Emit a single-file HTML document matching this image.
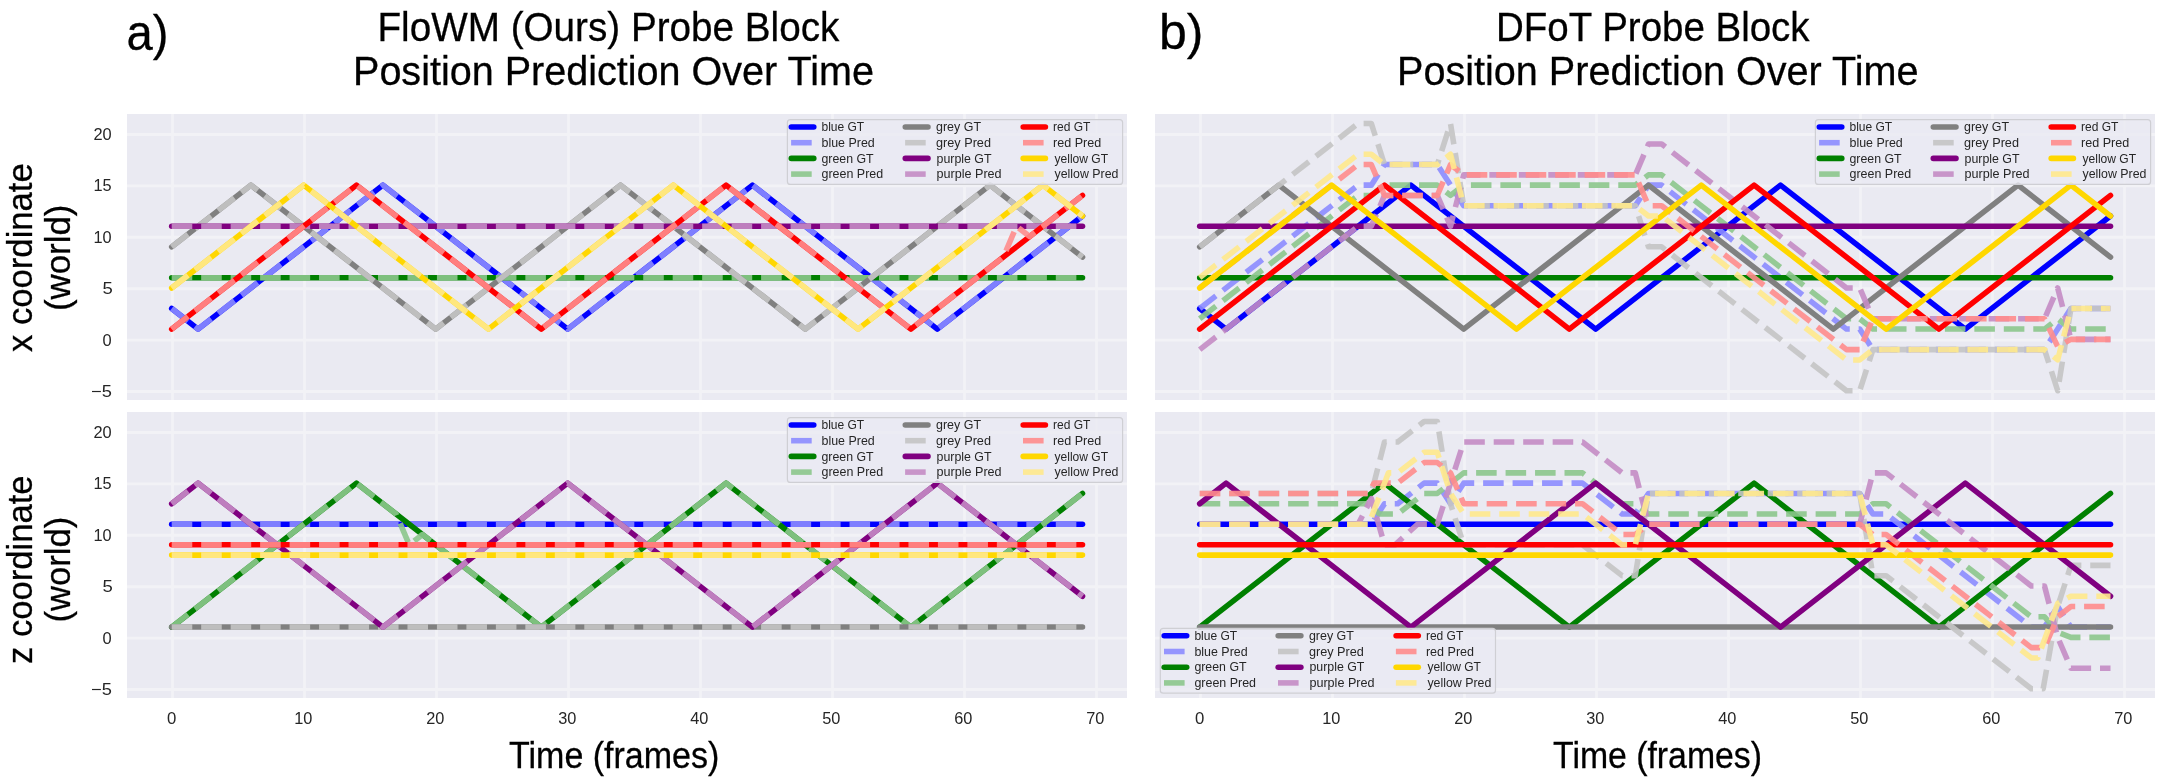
<!DOCTYPE html><html><head><meta charset="utf-8"><style>html,body{margin:0;padding:0;background:#fff;width:2166px;height:781px;overflow:hidden}svg{display:block;will-change:transform}text{font-family:"Liberation Sans",sans-serif}</style></head><body>
<svg width="2166" height="781" viewBox="0 0 2166 781">
<rect x="0" y="0" width="2166" height="781" fill="#ffffff"/>
<defs>
<clipPath id="cTL"><rect x="127" y="114" width="1000" height="286"/></clipPath>
<clipPath id="cTR"><rect x="1155" y="114" width="1000" height="286"/></clipPath>
<clipPath id="cBL"><rect x="127" y="412" width="1000" height="286"/></clipPath>
<clipPath id="cBR"><rect x="1155" y="412" width="1000" height="286"/></clipPath>
</defs>
<rect x="127" y="114" width="1000" height="286" fill="#eaeaf2"/>
<path d="M172.50,114 V400 M304.50,114 V400 M436.50,114 V400 M568.50,114 V400 M700.50,114 V400 M832.50,114 V400 M964.50,114 V400 M1096.50,114 V400 M127,391.50 H1127 M127,340.10 H1127 M127,288.70 H1127 M127,237.30 H1127 M127,185.90 H1127 M127,134.50 H1127" stroke="#f2f2f6" stroke-width="2.9" fill="none"/>
<rect x="1155" y="114" width="1000" height="286" fill="#eaeaf2"/>
<path d="M1200.50,114 V400 M1332.50,114 V400 M1464.50,114 V400 M1596.50,114 V400 M1728.50,114 V400 M1860.50,114 V400 M1992.50,114 V400 M2124.50,114 V400 M1155,391.50 H2155 M1155,340.10 H2155 M1155,288.70 H2155 M1155,237.30 H2155 M1155,185.90 H2155 M1155,134.50 H2155" stroke="#f2f2f6" stroke-width="2.9" fill="none"/>
<rect x="127" y="412" width="1000" height="286" fill="#eaeaf2"/>
<path d="M172.50,412 V698 M304.50,412 V698 M436.50,412 V698 M568.50,412 V698 M700.50,412 V698 M832.50,412 V698 M964.50,412 V698 M1096.50,412 V698 M127,689.50 H1127 M127,638.10 H1127 M127,586.70 H1127 M127,535.30 H1127 M127,483.90 H1127 M127,432.50 H1127" stroke="#f2f2f6" stroke-width="2.9" fill="none"/>
<rect x="1155" y="412" width="1000" height="286" fill="#eaeaf2"/>
<path d="M1200.50,412 V698 M1332.50,412 V698 M1464.50,412 V698 M1596.50,412 V698 M1728.50,412 V698 M1860.50,412 V698 M1992.50,412 V698 M2124.50,412 V698 M1155,689.50 H2155 M1155,638.10 H2155 M1155,586.70 H2155 M1155,535.30 H2155 M1155,483.90 H2155 M1155,432.50 H2155" stroke="#f2f2f6" stroke-width="2.9" fill="none"/>
<g clip-path="url(#cTL)" fill="none" stroke-width="5.56" stroke-linejoin="round">
<path d="M171.70,308.51 L198.10,329.07 L382.90,185.15 L567.70,329.07 L752.50,185.15 L937.30,329.07 L1082.50,215.99" stroke="#0000ff" stroke-linecap="round"/>
<path d="M171.70,308.51 L198.10,329.07 L382.90,185.15 L567.70,329.07 L752.50,185.15 L937.30,329.07 L1082.50,215.99" stroke="#8c8cff" stroke-opacity="0.9" stroke-linecap="butt" stroke-dasharray="20.57 8.9"/>
<path d="M171.70,277.67 L1082.50,277.67" stroke="#008000" stroke-linecap="round"/>
<path d="M171.70,277.67 L1082.50,277.67" stroke="#8cc78c" stroke-opacity="0.9" stroke-linecap="butt" stroke-dasharray="20.57 8.9"/>
<path d="M171.70,246.83 L250.90,185.15 L435.70,329.07 L620.50,185.15 L805.30,329.07 L990.10,185.15 L1082.50,257.11" stroke="#808080" stroke-linecap="round"/>
<path d="M171.70,246.83 L250.90,185.15 L435.70,329.07 L620.50,185.15 L805.30,329.07 L990.10,185.15 L1082.50,257.11" stroke="#c4c4c4" stroke-opacity="0.9" stroke-linecap="butt" stroke-dasharray="20.57 8.9"/>
<path d="M171.70,226.27 L1082.50,226.27" stroke="#800080" stroke-linecap="round"/>
<path d="M171.70,226.27 L1082.50,226.27" stroke="#c48cc4" stroke-opacity="0.9" stroke-linecap="butt" stroke-dasharray="20.57 8.9"/>
<path d="M171.70,329.07 L356.50,185.15 L541.30,329.07 L726.10,185.15 L910.90,329.07 L1082.50,195.43" stroke="#ff0000" stroke-linecap="round"/>
<path d="M171.70,329.07 L356.50,185.15 L541.30,329.07 L726.10,185.15 L910.90,329.07 L1003.30,257.11 L1016.50,226.27 L1029.70,236.55 L1082.50,195.43" stroke="#ff8c8c" stroke-opacity="0.9" stroke-linecap="butt" stroke-dasharray="20.57 8.9"/>
<path d="M171.70,287.95 L303.70,185.15 L488.50,329.07 L673.30,185.15 L858.10,329.07 L1042.90,185.15 L1082.50,215.99" stroke="#ffd700" stroke-linecap="round"/>
<path d="M171.70,287.95 L303.70,185.15 L488.50,329.07 L673.30,185.15 L858.10,329.07 L1042.90,185.15 L1082.50,215.99" stroke="#ffe98c" stroke-opacity="0.9" stroke-linecap="butt" stroke-dasharray="20.57 8.9"/>
</g>
<g clip-path="url(#cBL)" fill="none" stroke-width="5.56" stroke-linejoin="round">
<path d="M171.70,524.27 L1082.50,524.27" stroke="#0000ff" stroke-linecap="round"/>
<path d="M171.70,524.27 L1082.50,524.27" stroke="#8c8cff" stroke-opacity="0.9" stroke-linecap="butt" stroke-dasharray="20.57 8.9"/>
<path d="M171.70,627.07 L356.50,483.15 L541.30,627.07 L726.10,483.15 L910.90,627.07 L1082.50,493.43" stroke="#008000" stroke-linecap="round"/>
<path d="M171.70,627.07 L356.50,483.15 L396.10,513.99 L409.30,544.83 L422.50,534.55 L541.30,627.07 L726.10,483.15 L910.90,627.07 L1082.50,493.43" stroke="#8cc78c" stroke-opacity="0.9" stroke-linecap="butt" stroke-dasharray="20.57 8.9"/>
<path d="M171.70,627.07 L1082.50,627.07" stroke="#808080" stroke-linecap="round"/>
<path d="M171.70,627.07 L1082.50,627.07" stroke="#c4c4c4" stroke-opacity="0.9" stroke-linecap="butt" stroke-dasharray="20.57 8.9"/>
<path d="M171.70,503.71 L198.10,483.15 L382.90,627.07 L567.70,483.15 L752.50,627.07 L937.30,483.15 L1082.50,596.23" stroke="#800080" stroke-linecap="round"/>
<path d="M171.70,503.71 L198.10,483.15 L382.90,627.07 L567.70,483.15 L752.50,627.07 L937.30,483.15 L1082.50,596.23" stroke="#c48cc4" stroke-opacity="0.9" stroke-linecap="butt" stroke-dasharray="20.57 8.9"/>
<path d="M171.70,544.83 L1082.50,544.83" stroke="#ff0000" stroke-linecap="round"/>
<path d="M171.70,544.83 L1082.50,544.83" stroke="#ff8c8c" stroke-opacity="0.9" stroke-linecap="butt" stroke-dasharray="20.57 8.9"/>
<path d="M171.70,555.11 L1082.50,555.11" stroke="#ffd700" stroke-linecap="round"/>
<path d="M171.70,555.11 L1082.50,555.11" stroke="#ffe98c" stroke-opacity="0.9" stroke-linecap="butt" stroke-dasharray="20.57 8.9"/>
</g>
<g clip-path="url(#cTR)" fill="none" stroke-width="5.56" stroke-linejoin="round">
<path d="M1199.70,308.51 L1226.10,329.07 L1410.90,185.15 L1595.70,329.07 L1780.50,185.15 L1965.30,329.07 L2110.50,215.99" stroke="#0000ff" stroke-linecap="round"/>
<path d="M1199.70,308.51 L1358.10,185.15 L1371.30,185.15 L1384.50,164.59 L1437.30,164.59 L1450.50,185.15 L1463.70,205.71 L1635.30,205.71 L1648.50,185.15 L1661.70,185.15 L1846.50,329.07 L1859.70,329.07 L1872.90,349.63 L2044.50,349.63 L2057.70,329.07 L2070.90,308.51 L2110.50,308.51" stroke="#8c8cff" stroke-opacity="0.9" stroke-linecap="butt" stroke-dasharray="20.57 8.9"/>
<path d="M1199.70,277.67 L2110.50,277.67" stroke="#008000" stroke-linecap="round"/>
<path d="M1199.70,318.79 L1358.10,195.43 L1371.30,195.43 L1384.50,185.15 L1437.30,185.15 L1450.50,195.43 L1463.70,185.15 L1635.30,185.15 L1648.50,174.87 L1661.70,174.87 L1846.50,318.79 L1859.70,318.79 L1872.90,329.07 L2044.50,329.07 L2057.70,318.79 L2070.90,329.07 L2110.50,329.07" stroke="#8cc78c" stroke-opacity="0.9" stroke-linecap="butt" stroke-dasharray="20.57 8.9"/>
<path d="M1199.70,246.83 L1278.90,185.15 L1463.70,329.07 L1648.50,185.15 L1833.30,329.07 L2018.10,185.15 L2110.50,257.11" stroke="#808080" stroke-linecap="round"/>
<path d="M1199.70,246.83 L1358.10,123.47 L1371.30,123.47 L1384.50,164.59 L1437.30,164.59 L1450.50,123.47 L1463.70,205.71 L1635.30,205.71 L1648.50,246.83 L1661.70,246.83 L1846.50,390.75 L1859.70,390.75 L1872.90,349.63 L2044.50,349.63 L2057.70,390.75 L2070.90,308.51 L2110.50,308.51" stroke="#c4c4c4" stroke-opacity="0.9" stroke-linecap="butt" stroke-dasharray="20.57 8.9"/>
<path d="M1199.70,226.27 L2110.50,226.27" stroke="#800080" stroke-linecap="round"/>
<path d="M1199.70,349.63 L1358.10,226.27 L1371.30,226.27 L1384.50,195.43 L1437.30,195.43 L1450.50,226.27 L1463.70,174.87 L1635.30,174.87 L1648.50,144.03 L1661.70,144.03 L1846.50,287.95 L1859.70,287.95 L1872.90,318.79 L2044.50,318.79 L2057.70,287.95 L2070.90,339.35 L2110.50,339.35" stroke="#c48cc4" stroke-opacity="0.9" stroke-linecap="butt" stroke-dasharray="20.57 8.9"/>
<path d="M1199.70,329.07 L1384.50,185.15 L1569.30,329.07 L1754.10,185.15 L1938.90,329.07 L2110.50,195.43" stroke="#ff0000" stroke-linecap="round"/>
<path d="M1199.70,287.95 L1358.10,164.59 L1371.30,164.59 L1384.50,195.43 L1437.30,195.43 L1450.50,164.59 L1463.70,174.87 L1635.30,174.87 L1648.50,205.71 L1661.70,205.71 L1846.50,349.63 L1859.70,349.63 L1872.90,318.79 L2044.50,318.79 L2057.70,346.55 L2070.90,339.35 L2110.50,339.35" stroke="#ff8c8c" stroke-opacity="0.9" stroke-linecap="butt" stroke-dasharray="20.57 8.9"/>
<path d="M1199.70,287.95 L1331.70,185.15 L1516.50,329.07 L1701.30,185.15 L1886.10,329.07 L2070.90,185.15 L2110.50,215.99" stroke="#ffd700" stroke-linecap="round"/>
<path d="M1199.70,277.67 L1358.10,154.31 L1371.30,154.31 L1384.50,164.59 L1437.30,164.59 L1450.50,154.31 L1463.70,205.71 L1635.30,205.71 L1648.50,215.99 L1661.70,215.99 L1846.50,359.91 L1859.70,359.91 L1872.90,349.63 L2044.50,349.63 L2057.70,359.91 L2070.90,308.51 L2110.50,308.51" stroke="#ffe98c" stroke-opacity="0.9" stroke-linecap="butt" stroke-dasharray="20.57 8.9"/>
</g>
<g clip-path="url(#cBR)" fill="none" stroke-width="5.56" stroke-linejoin="round">
<path d="M1199.70,524.27 L2110.50,524.27" stroke="#0000ff" stroke-linecap="round"/>
<path d="M1199.70,524.27 L1371.30,524.27 L1384.50,503.71 L1397.70,503.71 L1424.10,483.15 L1437.30,483.15 L1450.50,503.71 L1463.70,483.15 L1582.50,483.15 L1622.10,513.99 L1635.30,513.99 L1648.50,493.43 L1859.70,493.43 L1872.90,513.99 L1886.10,513.99 L2031.30,627.07 L2044.50,627.07 L2057.70,606.51 L2070.90,627.07 L2110.50,627.07" stroke="#8c8cff" stroke-opacity="0.9" stroke-linecap="butt" stroke-dasharray="20.57 8.9"/>
<path d="M1199.70,627.07 L1384.50,483.15 L1569.30,627.07 L1754.10,483.15 L1938.90,627.07 L2110.50,493.43" stroke="#008000" stroke-linecap="round"/>
<path d="M1199.70,503.71 L1368.66,503.71 L1379.22,513.99 L1397.70,513.99 L1424.10,493.43 L1437.30,493.43 L1450.50,483.15 L1463.70,472.87 L1582.50,472.87 L1622.10,503.71 L1635.30,503.71 L1648.50,513.99 L1859.70,513.99 L1872.90,503.71 L1886.10,503.71 L2031.30,616.79 L2044.50,616.79 L2057.70,632.21 L2070.90,637.35 L2110.50,637.35" stroke="#8cc78c" stroke-opacity="0.9" stroke-linecap="butt" stroke-dasharray="20.57 8.9"/>
<path d="M1199.70,627.07 L2110.50,627.07" stroke="#808080" stroke-linecap="round"/>
<path d="M1199.70,493.43 L1371.30,493.43 L1384.50,442.03 L1397.70,442.03 L1424.10,421.47 L1437.30,421.47 L1450.50,503.71 L1463.70,544.83 L1582.50,544.83 L1622.10,575.67 L1635.30,575.67 L1648.50,493.43 L1859.70,493.43 L1872.90,575.67 L1886.10,575.67 L2031.30,688.75 L2043.18,688.75 L2057.70,606.51 L2070.90,565.39 L2110.50,565.39" stroke="#c4c4c4" stroke-opacity="0.9" stroke-linecap="butt" stroke-dasharray="20.57 8.9"/>
<path d="M1199.70,503.71 L1226.10,483.15 L1410.90,627.07 L1595.70,483.15 L1780.50,627.07 L1965.30,483.15 L2110.50,596.23" stroke="#800080" stroke-linecap="round"/>
<path d="M1199.70,524.27 L1358.10,524.27 L1371.30,498.57 L1384.50,544.83 L1395.06,544.83 L1417.50,524.27 L1437.30,524.27 L1450.50,483.15 L1463.70,442.03 L1582.50,442.03 L1622.10,472.87 L1635.30,472.87 L1648.50,524.27 L1859.70,524.27 L1872.90,472.87 L1886.10,472.87 L2031.30,585.95 L2044.50,585.95 L2057.70,637.35 L2070.90,668.19 L2110.50,668.19" stroke="#c48cc4" stroke-opacity="0.9" stroke-linecap="butt" stroke-dasharray="20.57 8.9"/>
<path d="M1199.70,544.83 L2110.50,544.83" stroke="#ff0000" stroke-linecap="round"/>
<path d="M1199.70,493.43 L1368.66,493.43 L1373.94,483.15 L1397.70,483.15 L1424.10,462.59 L1437.30,462.59 L1450.50,472.87 L1463.70,503.71 L1582.50,503.71 L1622.10,534.55 L1635.30,534.55 L1648.50,524.27 L1859.70,524.27 L1872.90,534.55 L1886.10,534.55 L2031.30,647.63 L2044.50,647.63 L2057.70,616.79 L2070.90,606.51 L2110.50,606.51" stroke="#ff8c8c" stroke-opacity="0.9" stroke-linecap="butt" stroke-dasharray="20.57 8.9"/>
<path d="M1199.70,555.11 L2110.50,555.11" stroke="#ffd700" stroke-linecap="round"/>
<path d="M1199.70,524.27 L1368.66,524.27 L1388.46,472.87 L1397.70,472.87 L1424.10,452.31 L1437.30,452.31 L1450.50,493.43 L1463.70,513.99 L1582.50,513.99 L1622.10,544.83 L1635.30,544.83 L1648.50,493.43 L1859.70,493.43 L1872.90,544.83 L1886.10,544.83 L2031.30,657.91 L2037.90,657.91 L2057.70,603.43 L2070.90,596.23 L2110.50,596.23" stroke="#ffe98c" stroke-opacity="0.9" stroke-linecap="butt" stroke-dasharray="20.57 8.9"/>
</g>
<rect x="787.40" y="119.60" width="335.2" height="64.8" rx="3" ry="3" fill="#eaeaf2" fill-opacity="0.8" stroke="#cfcfd4" stroke-width="1.2"/>
<path d="M791.30,127.00 H813.80" stroke="#0000ff" stroke-width="5.56" stroke-linecap="round"/>
<path d="M791.10,142.70 H811.70" stroke="#8c8cff" stroke-opacity="0.9" stroke-width="5.56"/>
<path d="M791.30,158.40 H813.80" stroke="#008000" stroke-width="5.56" stroke-linecap="round"/>
<path d="M791.10,174.10 H811.70" stroke="#8cc78c" stroke-opacity="0.9" stroke-width="5.56"/>
<path d="M905.30,127.00 H928.00" stroke="#808080" stroke-width="5.56" stroke-linecap="round"/>
<path d="M905.10,142.70 H925.70" stroke="#c4c4c4" stroke-opacity="0.9" stroke-width="5.56"/>
<path d="M905.30,158.40 H928.00" stroke="#800080" stroke-width="5.56" stroke-linecap="round"/>
<path d="M905.10,174.10 H925.70" stroke="#c48cc4" stroke-opacity="0.9" stroke-width="5.56"/>
<path d="M1023.20,127.00 H1045.40" stroke="#ff0000" stroke-width="5.56" stroke-linecap="round"/>
<path d="M1023.00,142.70 H1043.60" stroke="#ff8c8c" stroke-opacity="0.9" stroke-width="5.56"/>
<path d="M1023.20,158.40 H1045.40" stroke="#ffd700" stroke-width="5.56" stroke-linecap="round"/>
<path d="M1023.00,174.10 H1043.60" stroke="#ffe98c" stroke-opacity="0.9" stroke-width="5.56"/>
<rect x="1815.40" y="119.60" width="335.2" height="64.8" rx="3" ry="3" fill="#eaeaf2" fill-opacity="0.8" stroke="#cfcfd4" stroke-width="1.2"/>
<path d="M1819.30,127.00 H1841.80" stroke="#0000ff" stroke-width="5.56" stroke-linecap="round"/>
<path d="M1819.10,142.70 H1839.70" stroke="#8c8cff" stroke-opacity="0.9" stroke-width="5.56"/>
<path d="M1819.30,158.40 H1841.80" stroke="#008000" stroke-width="5.56" stroke-linecap="round"/>
<path d="M1819.10,174.10 H1839.70" stroke="#8cc78c" stroke-opacity="0.9" stroke-width="5.56"/>
<path d="M1933.30,127.00 H1956.00" stroke="#808080" stroke-width="5.56" stroke-linecap="round"/>
<path d="M1933.10,142.70 H1953.70" stroke="#c4c4c4" stroke-opacity="0.9" stroke-width="5.56"/>
<path d="M1933.30,158.40 H1956.00" stroke="#800080" stroke-width="5.56" stroke-linecap="round"/>
<path d="M1933.10,174.10 H1953.70" stroke="#c48cc4" stroke-opacity="0.9" stroke-width="5.56"/>
<path d="M2051.20,127.00 H2073.40" stroke="#ff0000" stroke-width="5.56" stroke-linecap="round"/>
<path d="M2051.00,142.70 H2071.60" stroke="#ff8c8c" stroke-opacity="0.9" stroke-width="5.56"/>
<path d="M2051.20,158.40 H2073.40" stroke="#ffd700" stroke-width="5.56" stroke-linecap="round"/>
<path d="M2051.00,174.10 H2071.60" stroke="#ffe98c" stroke-opacity="0.9" stroke-width="5.56"/>
<rect x="787.40" y="417.60" width="335.2" height="64.8" rx="3" ry="3" fill="#eaeaf2" fill-opacity="0.8" stroke="#cfcfd4" stroke-width="1.2"/>
<path d="M791.30,425.00 H813.80" stroke="#0000ff" stroke-width="5.56" stroke-linecap="round"/>
<path d="M791.10,440.70 H811.70" stroke="#8c8cff" stroke-opacity="0.9" stroke-width="5.56"/>
<path d="M791.30,456.40 H813.80" stroke="#008000" stroke-width="5.56" stroke-linecap="round"/>
<path d="M791.10,472.10 H811.70" stroke="#8cc78c" stroke-opacity="0.9" stroke-width="5.56"/>
<path d="M905.30,425.00 H928.00" stroke="#808080" stroke-width="5.56" stroke-linecap="round"/>
<path d="M905.10,440.70 H925.70" stroke="#c4c4c4" stroke-opacity="0.9" stroke-width="5.56"/>
<path d="M905.30,456.40 H928.00" stroke="#800080" stroke-width="5.56" stroke-linecap="round"/>
<path d="M905.10,472.10 H925.70" stroke="#c48cc4" stroke-opacity="0.9" stroke-width="5.56"/>
<path d="M1023.20,425.00 H1045.40" stroke="#ff0000" stroke-width="5.56" stroke-linecap="round"/>
<path d="M1023.00,440.70 H1043.60" stroke="#ff8c8c" stroke-opacity="0.9" stroke-width="5.56"/>
<path d="M1023.20,456.40 H1045.40" stroke="#ffd700" stroke-width="5.56" stroke-linecap="round"/>
<path d="M1023.00,472.10 H1043.60" stroke="#ffe98c" stroke-opacity="0.9" stroke-width="5.56"/>
<rect x="1160.30" y="628.40" width="335.2" height="64.8" rx="3" ry="3" fill="#eaeaf2" fill-opacity="0.8" stroke="#cfcfd4" stroke-width="1.2"/>
<path d="M1164.20,635.80 H1186.70" stroke="#0000ff" stroke-width="5.56" stroke-linecap="round"/>
<path d="M1164.00,651.50 H1184.60" stroke="#8c8cff" stroke-opacity="0.9" stroke-width="5.56"/>
<path d="M1164.20,667.20 H1186.70" stroke="#008000" stroke-width="5.56" stroke-linecap="round"/>
<path d="M1164.00,682.90 H1184.60" stroke="#8cc78c" stroke-opacity="0.9" stroke-width="5.56"/>
<path d="M1278.20,635.80 H1300.90" stroke="#808080" stroke-width="5.56" stroke-linecap="round"/>
<path d="M1278.00,651.50 H1298.60" stroke="#c4c4c4" stroke-opacity="0.9" stroke-width="5.56"/>
<path d="M1278.20,667.20 H1300.90" stroke="#800080" stroke-width="5.56" stroke-linecap="round"/>
<path d="M1278.00,682.90 H1298.60" stroke="#c48cc4" stroke-opacity="0.9" stroke-width="5.56"/>
<path d="M1396.10,635.80 H1418.30" stroke="#ff0000" stroke-width="5.56" stroke-linecap="round"/>
<path d="M1395.90,651.50 H1416.50" stroke="#ff8c8c" stroke-opacity="0.9" stroke-width="5.56"/>
<path d="M1396.10,667.20 H1418.30" stroke="#ffd700" stroke-width="5.56" stroke-linecap="round"/>
<path d="M1395.90,682.90 H1416.50" stroke="#ffe98c" stroke-opacity="0.9" stroke-width="5.56"/>
<text x="377.50" y="40.70" font-size="40.5" fill="#000" stroke="#000" stroke-width="0.3" textLength="461.85" lengthAdjust="spacingAndGlyphs">FloWM (Ours) Probe Block</text>
<text x="353.00" y="85.10" font-size="40.5" fill="#000" stroke="#000" stroke-width="0.3" textLength="520.94" lengthAdjust="spacingAndGlyphs">Position Prediction Over Time</text>
<text x="1496.00" y="40.70" font-size="40.5" fill="#000" stroke="#000" stroke-width="0.3" textLength="313.58" lengthAdjust="spacingAndGlyphs">DFoT Probe Block</text>
<text x="1397.00" y="85.10" font-size="40.5" fill="#000" stroke="#000" stroke-width="0.3" textLength="521.57" lengthAdjust="spacingAndGlyphs">Position Prediction Over Time</text>
<text x="126.50" y="50.20" font-size="50" fill="#000" stroke="#000" stroke-width="0.3" textLength="42.01" lengthAdjust="spacingAndGlyphs">a)</text>
<text x="1159.00" y="49.40" font-size="50" fill="#000" stroke="#000" stroke-width="0.3" textLength="44.47" lengthAdjust="spacingAndGlyphs">b)</text>
<text x="509.00" y="767.70" font-size="36.5" fill="#000" stroke="#000" stroke-width="0.3" textLength="210.38" lengthAdjust="spacingAndGlyphs">Time (frames)</text>
<text x="1553.00" y="767.70" font-size="36.5" fill="#000" stroke="#000" stroke-width="0.3" textLength="208.97" lengthAdjust="spacingAndGlyphs">Time (frames)</text>
<text transform="translate(32.30,352.00) rotate(-90)" font-size="35.5" fill="#000" stroke="#000" stroke-width="0.3" textLength="188.78" lengthAdjust="spacingAndGlyphs">x coordinate</text>
<text transform="translate(69.90,311.00) rotate(-90)" font-size="35.5" fill="#000" stroke="#000" stroke-width="0.3" textLength="106.40" lengthAdjust="spacingAndGlyphs">(world)</text>
<text transform="translate(32.30,664.00) rotate(-90)" font-size="35.5" fill="#000" stroke="#000" stroke-width="0.3" textLength="188.55" lengthAdjust="spacingAndGlyphs">z coordinate</text>
<text transform="translate(69.90,622.50) rotate(-90)" font-size="35.5" fill="#000" stroke="#000" stroke-width="0.3" textLength="105.83" lengthAdjust="spacingAndGlyphs">(world)</text>
<text x="821.50" y="131.10" font-size="12.0" fill="#262626" textLength="42.71" lengthAdjust="spacingAndGlyphs">blue GT</text>
<text x="1849.50" y="131.10" font-size="12.0" fill="#262626" textLength="42.71" lengthAdjust="spacingAndGlyphs">blue GT</text>
<text x="821.50" y="429.10" font-size="12.0" fill="#262626" textLength="42.71" lengthAdjust="spacingAndGlyphs">blue GT</text>
<text x="1194.40" y="639.90" font-size="12.0" fill="#262626" textLength="42.71" lengthAdjust="spacingAndGlyphs">blue GT</text>
<text x="821.50" y="146.80" font-size="12.0" fill="#262626" textLength="53.23" lengthAdjust="spacingAndGlyphs">blue Pred</text>
<text x="1849.50" y="146.80" font-size="12.0" fill="#262626" textLength="53.23" lengthAdjust="spacingAndGlyphs">blue Pred</text>
<text x="821.50" y="444.80" font-size="12.0" fill="#262626" textLength="53.23" lengthAdjust="spacingAndGlyphs">blue Pred</text>
<text x="1194.40" y="655.60" font-size="12.0" fill="#262626" textLength="53.23" lengthAdjust="spacingAndGlyphs">blue Pred</text>
<text x="821.50" y="162.50" font-size="12.0" fill="#262626" textLength="52.14" lengthAdjust="spacingAndGlyphs">green GT</text>
<text x="1849.50" y="162.50" font-size="12.0" fill="#262626" textLength="52.14" lengthAdjust="spacingAndGlyphs">green GT</text>
<text x="821.50" y="460.50" font-size="12.0" fill="#262626" textLength="52.14" lengthAdjust="spacingAndGlyphs">green GT</text>
<text x="1194.40" y="671.30" font-size="12.0" fill="#262626" textLength="52.14" lengthAdjust="spacingAndGlyphs">green GT</text>
<text x="821.50" y="178.20" font-size="12.0" fill="#262626" textLength="61.63" lengthAdjust="spacingAndGlyphs">green Pred</text>
<text x="1849.50" y="178.20" font-size="12.0" fill="#262626" textLength="61.63" lengthAdjust="spacingAndGlyphs">green Pred</text>
<text x="821.50" y="476.20" font-size="12.0" fill="#262626" textLength="61.63" lengthAdjust="spacingAndGlyphs">green Pred</text>
<text x="1194.40" y="687.00" font-size="12.0" fill="#262626" textLength="61.63" lengthAdjust="spacingAndGlyphs">green Pred</text>
<text x="936.00" y="131.10" font-size="12.0" fill="#262626" textLength="45.00" lengthAdjust="spacingAndGlyphs">grey GT</text>
<text x="1964.00" y="131.10" font-size="12.0" fill="#262626" textLength="45.00" lengthAdjust="spacingAndGlyphs">grey GT</text>
<text x="936.00" y="429.10" font-size="12.0" fill="#262626" textLength="45.00" lengthAdjust="spacingAndGlyphs">grey GT</text>
<text x="1308.90" y="639.90" font-size="12.0" fill="#262626" textLength="45.00" lengthAdjust="spacingAndGlyphs">grey GT</text>
<text x="936.00" y="146.80" font-size="12.0" fill="#262626" textLength="54.95" lengthAdjust="spacingAndGlyphs">grey Pred</text>
<text x="1964.00" y="146.80" font-size="12.0" fill="#262626" textLength="54.95" lengthAdjust="spacingAndGlyphs">grey Pred</text>
<text x="936.00" y="444.80" font-size="12.0" fill="#262626" textLength="54.95" lengthAdjust="spacingAndGlyphs">grey Pred</text>
<text x="1308.90" y="655.60" font-size="12.0" fill="#262626" textLength="54.95" lengthAdjust="spacingAndGlyphs">grey Pred</text>
<text x="936.50" y="162.50" font-size="12.0" fill="#262626" textLength="55.01" lengthAdjust="spacingAndGlyphs">purple GT</text>
<text x="1964.50" y="162.50" font-size="12.0" fill="#262626" textLength="55.01" lengthAdjust="spacingAndGlyphs">purple GT</text>
<text x="936.50" y="460.50" font-size="12.0" fill="#262626" textLength="55.01" lengthAdjust="spacingAndGlyphs">purple GT</text>
<text x="1309.40" y="671.30" font-size="12.0" fill="#262626" textLength="55.01" lengthAdjust="spacingAndGlyphs">purple GT</text>
<text x="936.50" y="178.20" font-size="12.0" fill="#262626" textLength="65.13" lengthAdjust="spacingAndGlyphs">purple Pred</text>
<text x="1964.50" y="178.20" font-size="12.0" fill="#262626" textLength="65.13" lengthAdjust="spacingAndGlyphs">purple Pred</text>
<text x="936.50" y="476.20" font-size="12.0" fill="#262626" textLength="65.13" lengthAdjust="spacingAndGlyphs">purple Pred</text>
<text x="1309.40" y="687.00" font-size="12.0" fill="#262626" textLength="65.13" lengthAdjust="spacingAndGlyphs">purple Pred</text>
<text x="1053.00" y="131.10" font-size="12.0" fill="#262626" textLength="37.37" lengthAdjust="spacingAndGlyphs">red GT</text>
<text x="2081.00" y="131.10" font-size="12.0" fill="#262626" textLength="37.37" lengthAdjust="spacingAndGlyphs">red GT</text>
<text x="1053.00" y="429.10" font-size="12.0" fill="#262626" textLength="37.37" lengthAdjust="spacingAndGlyphs">red GT</text>
<text x="1425.90" y="639.90" font-size="12.0" fill="#262626" textLength="37.37" lengthAdjust="spacingAndGlyphs">red GT</text>
<text x="1053.00" y="146.80" font-size="12.0" fill="#262626" textLength="48.15" lengthAdjust="spacingAndGlyphs">red Pred</text>
<text x="2081.00" y="146.80" font-size="12.0" fill="#262626" textLength="48.15" lengthAdjust="spacingAndGlyphs">red Pred</text>
<text x="1053.00" y="444.80" font-size="12.0" fill="#262626" textLength="48.15" lengthAdjust="spacingAndGlyphs">red Pred</text>
<text x="1425.90" y="655.60" font-size="12.0" fill="#262626" textLength="48.15" lengthAdjust="spacingAndGlyphs">red Pred</text>
<text x="1054.50" y="162.50" font-size="12.0" fill="#262626" textLength="53.55" lengthAdjust="spacingAndGlyphs">yellow GT</text>
<text x="2082.50" y="162.50" font-size="12.0" fill="#262626" textLength="53.55" lengthAdjust="spacingAndGlyphs">yellow GT</text>
<text x="1054.50" y="460.50" font-size="12.0" fill="#262626" textLength="53.55" lengthAdjust="spacingAndGlyphs">yellow GT</text>
<text x="1427.40" y="671.30" font-size="12.0" fill="#262626" textLength="53.55" lengthAdjust="spacingAndGlyphs">yellow GT</text>
<text x="1054.50" y="178.20" font-size="12.0" fill="#262626" textLength="63.88" lengthAdjust="spacingAndGlyphs">yellow Pred</text>
<text x="2082.50" y="178.20" font-size="12.0" fill="#262626" textLength="63.88" lengthAdjust="spacingAndGlyphs">yellow Pred</text>
<text x="1054.50" y="476.20" font-size="12.0" fill="#262626" textLength="63.88" lengthAdjust="spacingAndGlyphs">yellow Pred</text>
<text x="1427.40" y="687.00" font-size="12.0" fill="#262626" textLength="63.88" lengthAdjust="spacingAndGlyphs">yellow Pred</text>
<text x="91.00" y="397.00" font-size="16.5" fill="#262626" textLength="20.83" lengthAdjust="spacingAndGlyphs">−5</text>
<text x="91.00" y="695.00" font-size="16.5" fill="#262626" textLength="20.83" lengthAdjust="spacingAndGlyphs">−5</text>
<text x="102.50" y="345.60" font-size="16.5" fill="#262626" textLength="9.15" lengthAdjust="spacingAndGlyphs">0</text>
<text x="102.50" y="643.60" font-size="16.5" fill="#262626" textLength="9.15" lengthAdjust="spacingAndGlyphs">0</text>
<text x="102.50" y="294.20" font-size="16.5" fill="#262626" textLength="10.30" lengthAdjust="spacingAndGlyphs">5</text>
<text x="102.50" y="592.20" font-size="16.5" fill="#262626" textLength="10.30" lengthAdjust="spacingAndGlyphs">5</text>
<text x="93.50" y="242.80" font-size="16.5" fill="#262626" textLength="18.17" lengthAdjust="spacingAndGlyphs">10</text>
<text x="93.50" y="540.80" font-size="16.5" fill="#262626" textLength="18.17" lengthAdjust="spacingAndGlyphs">10</text>
<text x="93.50" y="191.40" font-size="16.5" fill="#262626" textLength="18.17" lengthAdjust="spacingAndGlyphs">15</text>
<text x="93.50" y="489.40" font-size="16.5" fill="#262626" textLength="18.17" lengthAdjust="spacingAndGlyphs">15</text>
<text x="93.50" y="140.00" font-size="16.5" fill="#262626" textLength="18.23" lengthAdjust="spacingAndGlyphs">20</text>
<text x="93.50" y="438.00" font-size="16.5" fill="#262626" textLength="18.23" lengthAdjust="spacingAndGlyphs">20</text>
<text x="167.00" y="723.90" font-size="16.5" fill="#262626" textLength="9.33" lengthAdjust="spacingAndGlyphs">0</text>
<text x="1195.00" y="723.90" font-size="16.5" fill="#262626" textLength="9.33" lengthAdjust="spacingAndGlyphs">0</text>
<text x="294.25" y="723.90" font-size="16.5" fill="#262626" textLength="18.17" lengthAdjust="spacingAndGlyphs">10</text>
<text x="1322.25" y="723.90" font-size="16.5" fill="#262626" textLength="18.17" lengthAdjust="spacingAndGlyphs">10</text>
<text x="426.25" y="723.90" font-size="16.5" fill="#262626" textLength="18.17" lengthAdjust="spacingAndGlyphs">20</text>
<text x="1454.25" y="723.90" font-size="16.5" fill="#262626" textLength="18.17" lengthAdjust="spacingAndGlyphs">20</text>
<text x="558.25" y="723.90" font-size="16.5" fill="#262626" textLength="18.17" lengthAdjust="spacingAndGlyphs">30</text>
<text x="1586.25" y="723.90" font-size="16.5" fill="#262626" textLength="18.17" lengthAdjust="spacingAndGlyphs">30</text>
<text x="690.25" y="723.90" font-size="16.5" fill="#262626" textLength="18.17" lengthAdjust="spacingAndGlyphs">40</text>
<text x="1718.25" y="723.90" font-size="16.5" fill="#262626" textLength="18.17" lengthAdjust="spacingAndGlyphs">40</text>
<text x="822.25" y="723.90" font-size="16.5" fill="#262626" textLength="18.17" lengthAdjust="spacingAndGlyphs">50</text>
<text x="1850.25" y="723.90" font-size="16.5" fill="#262626" textLength="18.17" lengthAdjust="spacingAndGlyphs">50</text>
<text x="954.25" y="723.90" font-size="16.5" fill="#262626" textLength="18.17" lengthAdjust="spacingAndGlyphs">60</text>
<text x="1982.25" y="723.90" font-size="16.5" fill="#262626" textLength="18.17" lengthAdjust="spacingAndGlyphs">60</text>
<text x="1086.25" y="723.90" font-size="16.5" fill="#262626" textLength="18.17" lengthAdjust="spacingAndGlyphs">70</text>
<text x="2114.25" y="723.90" font-size="16.5" fill="#262626" textLength="18.17" lengthAdjust="spacingAndGlyphs">70</text>
</svg></body></html>
